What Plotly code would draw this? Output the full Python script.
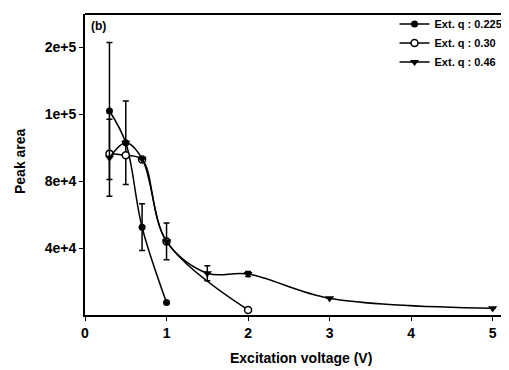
import plotly.graph_objects as go

# Data
x1 = [0.3, 0.5, 0.7, 1.0]
y1 = [122000, 103000, 52500, 7500]
e1 = [41000, 25000, 14000, 0]

x2 = [0.3, 0.5, 0.7, 1.0, 2.0]
y2 = [96500, 95500, 93000, 44000, 3000]
e2 = [0, 0, 0, 0, 0]

x3 = [0.3, 0.5, 0.7, 1.0, 1.5, 2.0, 3.0, 5.0]
y3 = [94000, 103000, 93500, 44000, 25000, 24500, 10000, 4000]
e3 = [23000, 0, 0, 11000, 4500, 1500, 0, 0]

names = ["Ext. q : 0.225", "Ext. q : 0.30", "Ext. q : 0.46"]
ytickvals = [40000, 80000, 120000, 160000]
yticktext = ["4e+4", "8e+4", "1e+5", "2e+5"]
xtickvals = [0, 1, 2, 3, 4, 5]

FONT = "Arial, Liberation Sans, sans-serif"

def err(arr):
    return dict(type="data", array=arr, visible=True, color="black", thickness=1.5, width=3)

fig = go.Figure()
fig.add_trace(go.Scatter(x=x1, y=y1, name=names[0], mode="lines+markers",
                         line=dict(color="black", width=1.5, shape="spline", smoothing=1),
                         marker=dict(symbol="circle", size=7, color="black"),
                         error_y=err(e1)))
fig.add_trace(go.Scatter(x=x2, y=y2, name=names[1], mode="lines+markers",
                         line=dict(color="black", width=1.5, shape="spline", smoothing=1),
                         marker=dict(symbol="circle", size=7, color="white",
                                     line=dict(color="black", width=1.5)),
                         error_y=err(e2)))
fig.add_trace(go.Scatter(x=x3, y=y3, name=names[2], mode="lines+markers",
                         line=dict(color="black", width=1.5, shape="spline", smoothing=1),
                         marker=dict(symbol="triangle-down", size=8, color="black"),
                         error_y=err(e3)))

# page body has an 8px margin: the figure is sized/offset to compensate
fig.update_layout(
    width=501, height=362,
    margin=dict(l=77, r=0, t=6, b=55),
    paper_bgcolor="white", plot_bgcolor="white",
    font=dict(family=FONT, color="black"),
    showlegend=True,
    legend=dict(x=0.73, y=1.015, xanchor="left", yanchor="top",
                bgcolor="rgba(0,0,0,0)", font=dict(size=11, family=FONT, weight="bold"),
                tracegroupgap=0),
    xaxis=dict(range=[0, 5.2], tickvals=xtickvals, showgrid=False, zeroline=False,
               showline=True, linecolor="black", linewidth=2, ticks="outside",
               ticklen=4, tickcolor="black", automargin=False,
               tickfont=dict(size=14, family=FONT, weight="bold")),
    yaxis=dict(range=[0, 180000], tickvals=ytickvals, ticktext=yticktext, showgrid=False,
               zeroline=False, showline=True, linecolor="black", linewidth=2,
               ticks="outside", ticklen=4, tickcolor="black", automargin=False,
               tickfont=dict(size=14, family=FONT, weight="bold")),
    shapes=[dict(type="line", xref="paper", yref="paper", x0=0, x1=1, y0=1, y1=1,
                 line=dict(color="black", width=2))],
    annotations=[
        dict(text="(b)", xref="paper", yref="paper", x=0.01, y=0.99,
             xanchor="left", yanchor="top", showarrow=False,
             font=dict(size=12, family=FONT, weight="bold")),
        dict(text="Excitation voltage (V)", xref="paper", yref="paper", x=0.509, y=-0.143,
             xanchor="center", yanchor="middle", showarrow=False,
             font=dict(size=14, family=FONT, weight="bold")),
        dict(text="Peak area", xref="paper", yref="paper", x=-0.153, y=0.512,
             xanchor="center", yanchor="middle", showarrow=False, textangle=-90,
             font=dict(size=14, family=FONT, weight="bold")),
    ],
)

fig.write_html("out.html")
